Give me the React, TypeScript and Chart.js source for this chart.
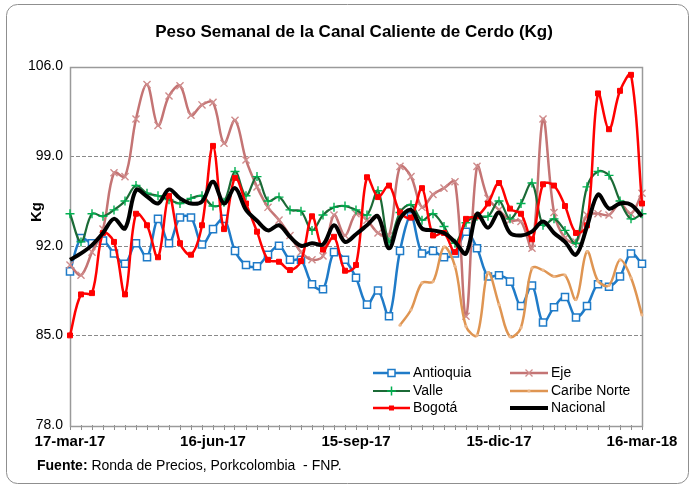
import React, { useEffect, useRef } from 'react';
import { Chart, registerables } from 'chart.js';

Chart.register(...registerables);

const FONT = '"Liberation Sans", Arial, Helvetica, sans-serif';

const labels = [
  '17-mar-17', '24-mar-17', '31-mar-17', '7-abr-17', '14-abr-17', '21-abr-17', '28-abr-17',
  '5-may-17', '12-may-17', '19-may-17', '26-may-17', '2-jun-17', '9-jun-17', '16-jun-17',
  '23-jun-17', '30-jun-17', '7-jul-17', '14-jul-17', '21-jul-17', '28-jul-17', '4-ago-17',
  '11-ago-17', '18-ago-17', '25-ago-17', '1-sep-17', '8-sep-17', '15-sep-17', '22-sep-17',
  '29-sep-17', '6-oct-17', '13-oct-17', '20-oct-17', '27-oct-17', '3-nov-17', '10-nov-17',
  '17-nov-17', '24-nov-17', '1-dic-17', '8-dic-17', '15-dic-17', '22-dic-17', '29-dic-17',
  '5-ene-18', '12-ene-18', '19-ene-18', '26-ene-18', '2-feb-18', '9-feb-18', '16-feb-18',
  '23-feb-18', '2-mar-18', '9-mar-18', '16-mar-18',
];

const antioquia = [
  90.0, 92.6, 92.2, 92.4, 91.4, 90.6, 92.2, 91.1, 94.1, 92.2,
  94.2, 94.2, 92.1, 93.3, 94.1, 91.6, 90.5, 90.4, 91.3, 92.0,
  90.9, 90.9, 89.0, 88.6, 91.5, 90.9, 89.5, 87.4, 88.5, 86.5,
  91.6, 94.3, 91.4, 91.6, 91.1, 91.4, 93.1, 91.8, 89.6, 89.7,
  89.2, 87.3, 88.9, 86.0, 87.2, 88.0, 86.4, 87.3, 89.0, 88.8,
  89.6, 91.4, 90.6,
];

const eje = [
  90.5, 89.7, 91.5, 93.3, 97.7, 97.4, 101.9, 104.6, 101.4, 103.7,
  104.5, 102.2, 103.0, 103.2, 100.0, 101.8, 98.7, 96.6, 95.0, 94.0,
  92.8, 91.5, 90.9, 91.2, 94.4, 92.8, 94.5, 94.0, 93.0, 92.8,
  98.2, 97.4, 95.0, 96.0, 96.5, 97.0, 86.5, 98.2, 95.7, 94.8,
  94.0, 93.9, 91.8, 101.9, 94.6, 92.6, 92.3, 94.4, 94.5, 94.4,
  95.3, 94.5, 96.1,
];

const valle = [
  94.5, 92.3, 94.5, 94.3, 94.8, 95.5, 96.7, 96.1, 95.9, 95.6,
  95.3, 95.7, 95.9, 95.1, 95.4, 97.8, 95.9, 97.4, 95.5, 95.8,
  94.8, 94.7, 93.2, 94.4, 95.0, 95.1, 94.8, 94.4, 96.3, 92.3,
  94.6, 95.2, 94.0, 94.5, 93.5, 92.2, 93.8, 94.3, 94.3, 95.5,
  94.1, 95.3, 96.9, 93.6, 94.1, 93.2, 92.2, 96.6, 97.8, 97.5,
  95.5, 94.1, 94.5,
];

const caribeNorte = [
  null, null, null, null, null, null, null, null, null, null,
  null, null, null, null, null, null, null, null, null, null,
  null, null, null, null, null, null, null, null, null, null,
  85.8, 87.0, 89.1, 89.2, 91.9, 90.4, 85.7, 85.0, 89.9, 87.4,
  84.9, 85.6, 90.25, 90.1, 89.6, 89.7, 87.8, 91.55, 89.25, 88.9,
  90.9, 89.5, 86.6,
];

const bogota = [
  85.0, 88.2, 88.3, 93.0, 92.3, 88.2, 94.5, 93.6, 91.1, 95.9,
  92.2, 91.3, 93.6, 99.8, 93.3, 97.3, 95.3, 93.1, 90.9, 90.75,
  90.1, 90.8, 94.3, 91.7, 92.7, 90.05, 90.5, 97.35, 95.8, 96.7,
  94.6, 94.2, 96.5, 92.8, 93.0, 91.5, 94.1, 94.3, 95.3, 96.9,
  94.9, 94.5, 92.5, 96.8, 96.7, 95.1, 93.0, 93.6, 103.9, 101.1,
  104.1, 105.35, 95.3,
];

const nacional = [
  90.9, 91.4, 92.05, 93.0, 94.1, 93.35, 96.35, 95.85, 95.3, 96.4,
  95.7, 95.3, 95.45, 97.0, 95.3, 96.5, 94.8, 93.95, 93.2, 93.6,
  92.7, 92.0, 92.2, 92.1, 93.6, 92.3, 92.9, 93.6, 94.3, 91.8,
  94.1, 94.8, 93.35, 93.2, 93.0, 92.3, 91.4, 94.5, 93.4, 94.6,
  93.0, 92.8, 93.1, 93.9, 93.0, 92.3, 91.3, 93.5, 96.0, 94.9,
  95.3, 95.2, 94.3,
];

const yTicks = [78, 85, 92, 99, 106];
const labelEvery = 13;

type Mk = 'square' | 'x' | 'plus' | 'dot' | 'fsquare' | 'none';

const series = [
  { name: 'Antioquia', data: antioquia, color: '#1F7BC8', mcolor: '#1F7BC8', width: 2.5, mk: 'square' as Mk },
  { name: 'Eje', data: eje, color: '#C47474', mcolor: '#CF8C8C', width: 2.5, mk: 'x' as Mk },
  { name: 'Valle', data: valle, color: '#1B6A36', mcolor: '#00B050', width: 2.2, mk: 'plus' as Mk },
  { name: 'Caribe Norte', data: caribeNorte, color: '#DF9552', mcolor: '#EDB88A', width: 2.5, mk: 'dot' as Mk },
  { name: 'Bogotá', data: bogota, color: '#FF0000', mcolor: '#FF0000', width: 2.5, mk: 'fsquare' as Mk },
  { name: 'Nacional', data: nacional, color: '#000000', mcolor: '#000000', width: 4, mk: 'none' as Mk },
];

function drawMarker(ctx: CanvasRenderingContext2D, mk: Mk, x: number, y: number, color: string) {
  ctx.save();
  ctx.strokeStyle = color;
  ctx.fillStyle = color;
  if (mk === 'square') {
    ctx.fillStyle = '#fff';
    ctx.lineWidth = 1.5;
    ctx.fillRect(x - 3.5, y - 3.5, 7, 7);
    ctx.strokeRect(x - 3.5, y - 3.5, 7, 7);
  } else if (mk === 'x') {
    ctx.lineWidth = 1.3;
    ctx.beginPath();
    ctx.moveTo(x - 3.5, y - 3.5); ctx.lineTo(x + 3.5, y + 3.5);
    ctx.moveTo(x + 3.5, y - 3.5); ctx.lineTo(x - 3.5, y + 3.5);
    ctx.stroke();
  } else if (mk === 'plus') {
    ctx.lineWidth = 1.5;
    ctx.beginPath();
    ctx.moveTo(x - 4.5, y); ctx.lineTo(x + 4.5, y);
    ctx.moveTo(x, y - 4.5); ctx.lineTo(x, y + 4.5);
    ctx.stroke();
  } else if (mk === 'dot') {
    ctx.beginPath();
    ctx.arc(x, y, 1.6, 0, Math.PI * 2);
    ctx.fill();
  } else if (mk === 'fsquare') {
    ctx.fillRect(x - 2.5, y - 2.5, 5, 5);
  }
  ctx.restore();
}

const decor = {
  id: 'decor',
  beforeDraw(chart: any) {
    const ctx: CanvasRenderingContext2D = chart.ctx;
    ctx.save();
    ctx.fillStyle = '#ffffff';
    ctx.fillRect(0, 0, chart.width, chart.height);
    // outer rounded frame
    const x0 = 6.5, y0 = 4.5, x1 = 688.5, y1 = 483.5, r = 11;
    ctx.beginPath();
    ctx.moveTo(x0 + r, y0);
    ctx.lineTo(x1 - r, y0);
    ctx.arcTo(x1, y0, x1, y0 + r, r);
    ctx.lineTo(x1, y1 - r);
    ctx.arcTo(x1, y1, x1 - r, y1, r);
    ctx.lineTo(x0 + r, y1);
    ctx.arcTo(x0, y1, x0, y1 - r, r);
    ctx.lineTo(x0, y0 + r);
    ctx.arcTo(x0, y0, x0 + r, y0, r);
    ctx.closePath();
    ctx.strokeStyle = '#8f8f8f';
    ctx.lineWidth = 1;
    ctx.stroke();
    ctx.restore();
  },
  beforeDatasetsDraw(chart: any) {
    const ctx: CanvasRenderingContext2D = chart.ctx;
    const a = chart.chartArea;
    const ys = chart.scales.y;
    ctx.save();
    ctx.strokeStyle = '#8a8a8a';
    ctx.lineWidth = 1;
    ctx.setLineDash([4, 2]);
    ys.ticks.forEach((t: any) => {
      if (t.value > ys.min && t.value < ys.max) {
        const py = Math.round(ys.getPixelForValue(t.value)) + 0.5;
        ctx.beginPath();
        ctx.moveTo(a.left, py);
        ctx.lineTo(a.right, py);
        ctx.stroke();
      }
    });
    ctx.setLineDash([]);
    ctx.strokeStyle = '#9a9a9a';
    ctx.lineWidth = 1.5;
    ctx.strokeRect(Math.round(a.left) + 0.5, Math.round(a.top) + 0.5, Math.round(a.right - a.left), Math.round(a.bottom - a.top));
    ctx.restore();
  },
  afterDraw(chart: any) {
    const ctx: CanvasRenderingContext2D = chart.ctx;
    ctx.save();
    ctx.fillStyle = '#000';
    // title
    ctx.font = `bold 17px ${FONT}`;
    ctx.textAlign = 'center';
    ctx.textBaseline = 'middle';
    ctx.fillText('Peso Semanal de la Canal Caliente de Cerdo (Kg)', 354, 32);
    // axis title
    ctx.save();
    ctx.translate(37, 212);
    ctx.rotate(-Math.PI / 2);
    ctx.font = `bold 15px ${FONT}`;
    ctx.fillText('Kg', 0, 0);
    ctx.restore();
    // footer
    ctx.textAlign = 'left';
    ctx.font = `bold 14px ${FONT}`;
    const f1 = 'Fuente:';
    ctx.fillText(f1, 37, 466);
    const w1 = ctx.measureText(f1).width;
    ctx.font = `14px ${FONT}`;
    ctx.fillText(' Ronda de Precios, Porkcolombia  - FNP.', 37 + w1, 466);
    // legend
    const cols = [{ l0: 373, l1: 410, tx: 413 }, { l0: 510, l1: 548, tx: 551 }];
    const rows = [373, 391, 408];
    ctx.font = `14px ${FONT}`;
    series.forEach((s, i) => {
      const c = cols[i % 2];
      const y = rows[Math.floor(i / 2)];
      ctx.save();
      ctx.strokeStyle = s.color;
      ctx.lineWidth = s.width;
      ctx.beginPath();
      ctx.moveTo(c.l0, y);
      ctx.lineTo(c.l1, y);
      ctx.stroke();
      ctx.restore();
      drawMarker(ctx, s.mk, (c.l0 + c.l1) / 2, y, s.mcolor);
      ctx.fillStyle = '#000';
      ctx.fillText(s.name, c.tx, y + 0.5);
    });
    ctx.restore();
  },
};

const pointStyleFor = (mk: Mk): any =>
  mk === 'square' || mk === 'fsquare' ? 'rect' : mk === 'x' ? 'crossRot' : mk === 'plus' ? 'cross' : 'circle';

export default function App() {
  const ref = useRef<HTMLCanvasElement>(null);
  useEffect(() => {
    document.body.style.margin = '0';
    const canvas = ref.current!;
    const datasets = series.map((s, i) => ({
      label: s.name,
      data: s.data,
      borderColor: s.color,
      borderWidth: s.width,
      backgroundColor: s.color,
      fill: false,
      tension: 0.35,
      spanGaps: false,
      order: series.length - 1 - i,
      pointStyle: pointStyleFor(s.mk),
      pointRadius: s.mk === 'none' ? 0 : s.mk === 'square' ? 5 : s.mk === 'fsquare' ? 3.5 : s.mk === 'x' ? 5 : s.mk === 'plus' ? 4.5 : 1.6,
      pointBackgroundColor: s.mk === 'square' ? '#ffffff' : s.mcolor,
      pointBorderColor: s.mcolor,
      pointBorderWidth: s.mk === 'square' ? 1.5 : s.mk === 'dot' ? 0 : s.mk === 'fsquare' ? 1 : 1.4,
      pointHoverRadius: 0,
    }));
    const chart = new Chart(canvas, {
      type: 'line',
      data: { labels, datasets },
      options: {
        responsive: false,
        animation: false,
        devicePixelRatio: 1,
        events: [],
        layout: { padding: { left: 0, right: 54, top: 66.5, bottom: 0 } },
        plugins: {
          legend: { display: false },
          title: { display: false },
          tooltip: { enabled: false },
        },
        scales: {
          x: {
            type: 'category',
            offset: false,
            grid: {
              display: true,
              drawOnChartArea: false,
              drawTicks: true,
              tickLength: 5,
              color: '#8c8c8c',
              tickColor: '#8c8c8c',
            },
            border: { display: false },
            ticks: {
              autoSkip: false,
              maxRotation: 0,
              minRotation: 0,
              padding: 3,
              color: '#000',
              font: { family: FONT, size: 15, weight: 'bold' },
              callback: (_v: any, i: number) => (i % labelEvery === 0 ? labels[i] : ''),
            },
            afterFit: (s: any) => { s.height = 62; },
          },
          y: {
            min: yTicks[0],
            max: yTicks[yTicks.length - 1],
            grid: { display: false, drawTicks: false },
            border: { display: false },
            afterBuildTicks: (s: any) => { s.ticks = yTicks.map((v) => ({ value: v })); },
            ticks: {
              padding: 7,
              color: '#000',
              font: { family: FONT, size: 14 },
              callback: (v: any) => Number(v).toFixed(1),
            },
            afterFit: (s: any) => { s.width = 70; },
          },
        },
      },
      plugins: [decor],
    });
    return () => chart.destroy();
  }, []);
  return (
    <canvas
      ref={ref}
      width={696}
      height={487}
      style={{ display: 'block', width: 696, height: 487 }}
    />
  );
}
